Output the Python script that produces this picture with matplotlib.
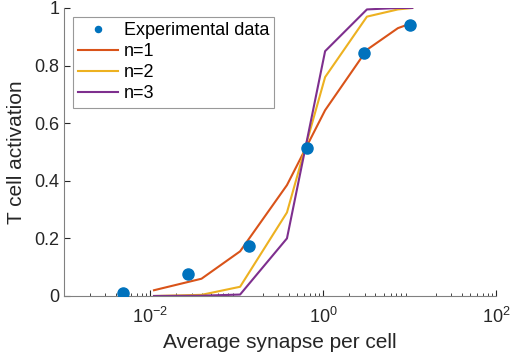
import matplotlib
matplotlib.use("Agg")
import matplotlib.pyplot as plt
import numpy as np

# experimental points
exp_x = [0.0048, 0.027, 0.138, 0.65, 2.97, 10.1]
exp_y = [0.01, 0.077, 0.172, 0.514, 0.844, 0.941]

# model curves
model_x = [0.011, 0.039, 0.109, 0.38, 1.05, 3.2, 7.3, 10.7]
n1 = [0.02, 0.06, 0.155, 0.385, 0.645, 0.855, 0.93, 0.948]
n2 = [0.0, 0.004, 0.032, 0.29, 0.76, 0.97, 0.995, 1.0]
n3 = [0.0, 0.001, 0.005, 0.2, 0.85, 0.995, 1.0, 1.0]

plt.rcParams["font.family"] = ["Liberation Sans", "DejaVu Sans"]
plt.rcParams["mathtext.fontset"] = "custom"
plt.rcParams["mathtext.rm"] = "Liberation Sans"
plt.rcParams["mathtext.it"] = "Liberation Sans"
grey = "#262626"

fig = plt.figure(figsize=(5.12, 3.63), dpi=100)
ax = fig.add_axes([0.125, 0.1846, 0.844, 0.7934])

ax.plot(exp_x, exp_y, "o", color="#0072BD", markersize=8, label="Experimental data", zorder=3)
ax.plot(model_x, n1, color="#D95319", lw=1.5, label="n=1")
ax.plot(model_x, n2, color="#EDB120", lw=1.5, label="n=2")
ax.plot(model_x, n3, color="#7E2F8E", lw=1.5, label="n=3")

ax.set_xscale("log")
ax.set_xlim(1e-3, 1e2)
ax.set_ylim(0, 1)
ax.set_xticks([1e-2, 1e0, 1e2])
ax.set_xticklabels(["$\\mathregular{10^{-2}}$", "$\\mathregular{10^{0}}$", "$\\mathregular{10^{2}}$"],
                   fontsize=14)
ax.set_yticks([0, 0.2, 0.4, 0.6, 0.8, 1])
ax.set_yticklabels(["0", "0.2", "0.4", "0.6", "0.8", "1"])
ax.tick_params(direction="in", labelsize=13, colors=grey, length=4, width=0.8)
ax.tick_params(axis="x", pad=8)
ax.tick_params(which="minor", direction="in", length=2.5, width=0.6, colors=grey)
for s in ["top", "right"]:
    ax.spines[s].set_visible(False)
for s in ["left", "bottom"]:
    ax.spines[s].set_color("#808080")
    ax.spines[s].set_linewidth(0.8)

ax.set_xlabel("Average synapse per cell", fontsize=15, color=grey, labelpad=4)
ax.set_ylabel("T cell activation", fontsize=15, color=grey, labelpad=6)

leg = ax.legend(loc="upper left", fontsize=13, frameon=True, fancybox=False,
                edgecolor="#808080", handlelength=2.2, borderpad=0.3,
                labelspacing=0.22, handletextpad=0.3, borderaxespad=0.5,
                markerscale=0.55)
leg.get_frame().set_linewidth(0.8)
for t in leg.get_texts():
    t.set_color("black")

fig.savefig("out.png", dpi=100)
